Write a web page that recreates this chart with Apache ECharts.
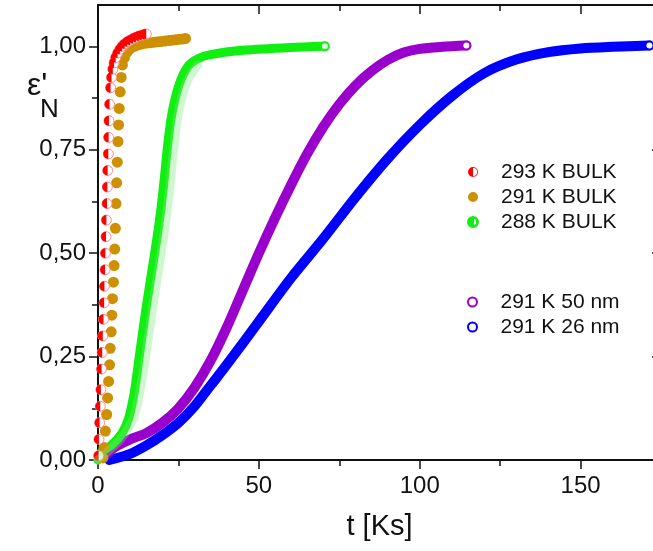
<!DOCTYPE html>
<html>
<head>
<meta charset="utf-8">
<script src="https://cdn.jsdelivr.net/npm/echarts@6/dist/echarts.min.js"></script>
<style>
    html, body { margin: 0; padding: 0; background: #fff; }
    #chart { width: 653px; height: 551px; }
</style>
</head>
<body>
<div id="chart"></div>
<script>
/*data: t in Ks, eps'N*/
const t293 = [0.2, 0.3, 0.5, 0.7, 0.9, 1.1, 1.3, 1.5, 1.7, 1.9, 2.0, 2.2, 2.3, 2.5, 2.6, 2.8, 2.9, 3.0, 3.2, 3.3, 3.4, 3.6, 3.9, 4.2, 4.6, 5.0, 5.5, 6.1, 6.8, 7.5, 8.3, 9.1, 10.0, 10.9, 11.8, 12.7, 13.6, 14.5, 15.0];
const e293 = [0.01, 0.05, 0.09, 0.13, 0.17, 0.22, 0.26, 0.30, 0.34, 0.38, 0.42, 0.46, 0.50, 0.54, 0.58, 0.62, 0.66, 0.70, 0.74, 0.78, 0.82, 0.86, 0.90, 0.925, 0.945, 0.96, 0.973, 0.984, 0.993, 1.0, 1.006, 1.011, 1.015, 1.019, 1.022, 1.025, 1.027, 1.029, 1.03];

const t291 = [1.5, 1.9, 2.3, 2.7, 3.0, 3.3, 3.6, 3.8, 4.1, 4.3, 4.5, 4.8, 5.0, 5.2, 5.4, 5.6, 5.8, 6.0, 6.2, 6.4, 6.6, 6.9, 7.2, 7.6, 8.2, 8.9, 9.6, 10.4, 11.3, 12.2, 13.2, 14.2, 15.3, 16.4, 17.5, 18.6, 19.7, 20.8, 21.9, 23.0, 24.1, 25.2, 26.3, 27.2];
const e291 = [0.005, 0.03, 0.07, 0.11, 0.15, 0.19, 0.23, 0.27, 0.31, 0.35, 0.39, 0.43, 0.47, 0.51, 0.56, 0.62, 0.67, 0.72, 0.77, 0.81, 0.85, 0.89, 0.925, 0.955, 0.972, 0.984, 0.992, 0.997, 1.0, 1.003, 1.005, 1.007, 1.008, 1.009, 1.010, 1.011, 1.012, 1.013, 1.014, 1.015, 1.016, 1.017, 1.018, 1.019];

const t288 = [0, 1.1, 4.2, 7.4, 9.5, 11.3, 13.0, 15.0, 16.8, 18.2, 19.6, 20.6, 21.5, 22.6, 24.0, 25.8, 28.3, 31.5, 35.0, 44.0, 59.6, 70.5];
const e288 = [0, 0.02, 0.036, 0.064, 0.10, 0.165, 0.26, 0.37, 0.46, 0.53, 0.61, 0.68, 0.75, 0.82, 0.875, 0.92, 0.955, 0.972, 0.98, 0.99, 0.997, 1.0];

const t288b = [0, 3.0, 7.0, 11.0, 13.0, 15.0, 17.0, 18.8, 20.2, 21.6, 22.6, 23.5, 24.6, 26.0, 28.0, 31.0];
const e288b = [0, 0.02, 0.05, 0.10, 0.165, 0.26, 0.37, 0.46, 0.53, 0.61, 0.68, 0.75, 0.82, 0.875, 0.92, 0.955];

const t50 = [1.5, 5, 10, 15, 20, 25, 30, 35, 40, 45, 50, 55, 60, 65, 70, 75, 80, 85, 90, 95, 100, 107, 114.5];
const e50 = [0.005, 0.03, 0.05, 0.065, 0.09, 0.125, 0.175, 0.24, 0.32, 0.41, 0.5, 0.585, 0.665, 0.74, 0.805, 0.86, 0.905, 0.94, 0.967, 0.985, 0.994, 0.999, 1.002];

const t26 = [3.5, 10, 15, 20, 25, 30, 35, 40, 50, 60, 70, 80, 90, 100, 110, 120, 130, 140, 150, 160, 171.4];
const e26 = [0, 0.015, 0.035, 0.06, 0.09, 0.13, 0.18, 0.23, 0.335, 0.44, 0.535, 0.635, 0.728, 0.81, 0.88, 0.935, 0.968, 0.986, 0.995, 0.999, 1.002];

const xMajor = [0, 50, 100, 150];
const xMinor = [25, 75, 125, 175];
const yMajor = [0, 0.25, 0.5, 0.75, 1.0];
const yMinor = [0.125, 0.375, 0.625, 0.875];

const names = ['293 K BULK', '291 K BULK', '288 K BULK', '291 K 50 nm', '291 K 26 nm'];
const colors = ['#ff0000', '#cc9000', '#11ee11', '#9900cc', '#0000ff'];

function zip(xs, ys) {
    return xs.map(function (x, i) { return [x, ys[i]]; });
}

const FONT = '"Liberation Sans", Arial, sans-serif';
const INK = '#111';
const halfPath = 'path://M10,0A10,10,0,0,0,10,20Z';
const halfRingPath = 'path://M10,0A10,10,0,0,0,10,20Z M10,0A10,10,0,0,1,10,20L10,18.4A8.4,8.4,0,0,0,10,1.6Z';

function xAxisOf(position, ticks, len, inside, showLine, showLabel) {
    return {
        type: 'value', position: position, min: 0, max: 175,
        axisLine: { show: showLine, onZero: false, lineStyle: { color: INK, width: 2 } },
        axisTick: { show: true, inside: inside, length: len, customValues: ticks, lineStyle: { color: INK, width: 1.5 } },
        axisLabel: showLabel ? {
            customValues: ticks, margin: 14, color: INK, fontSize: 24, fontFamily: FONT
        } : { show: false },
        splitLine: { show: false }
    };
}

function yAxisOf(position, ticks, len, inside, showLine, showLabel) {
    return {
        type: 'value', position: position, min: 0, max: 1.1,
        axisLine: { show: showLine, onZero: false, lineStyle: { color: INK, width: 2 } },
        axisTick: { show: true, inside: inside, length: len, customValues: ticks, lineStyle: { color: INK, width: 1.5 } },
        axisLabel: showLabel ? {
            customValues: ticks, margin: 12, color: INK, fontSize: 24, fontFamily: FONT,
            formatter: function (v) { return v.toFixed(2).replace('.', ','); }
        } : { show: false },
        splitLine: { show: false }
    };
}

function bandSeries(name, data, color, width, endFill) {
    return {
        name: name, type: 'line', data: data, smooth: 0.3,
        xAxisIndex: 0, yAxisIndex: 0,
        showAllSymbol: true, symbol: 'circle',
        symbolSize: function (v, p) { return p.dataIndex === data.length - 1 ? 8 : 0; },
        itemStyle: { color: endFill, borderColor: color, borderWidth: 2 },
        lineStyle: { color: color, width: width, cap: 'round', join: 'round' },
        emphasis: { disabled: true }, animation: false, z: 2
    };
}

const chart = echarts.init(document.getElementById('chart'));

chart.setOption({
    animation: false,
    grid: { left: 98, top: 5, width: 563, height: 455, outerBoundsMode: 'none' },
    xAxis: [
        Object.assign(xAxisOf('bottom', xMajor, 9, false, true, true), {
            name: 't [Ks]', nameLocation: 'middle', nameGap: 52,
            nameTextStyle: { color: INK, fontSize: 29, fontFamily: FONT }
        }),
        xAxisOf('bottom', xMinor, 6, false, false, false),
        xAxisOf('top', xMajor, 9, true, true, false),
        xAxisOf('top', xMinor, 6, true, false, false)
    ],
    yAxis: [
        yAxisOf('left', yMajor, 9, false, true, true),
        yAxisOf('left', yMinor, 6, false, false, false),
        yAxisOf('right', yMajor, 9, true, true, false),
        yAxisOf('right', yMinor, 6, true, false, false)
    ],
    legend: [
        {
            orient: 'vertical', left: 462, top: 156, itemWidth: 46, itemHeight: 10, itemGap: 3,
            textStyle: { color: INK, fontSize: 21, fontFamily: FONT, lineHeight: 22 },
            data: [
                { name: names[0], icon: halfRingPath, itemStyle: { color: colors[0] } },
                { name: names[1], icon: 'circle', itemStyle: { color: colors[1] } },
                { name: names[2], icon: halfRingPath, itemStyle: { color: colors[2] } }
            ]
        },
        {
            orient: 'vertical', left: 462, top: 286, itemWidth: 46, itemHeight: 9, itemGap: 3,
            textStyle: { color: INK, fontSize: 21, fontFamily: FONT, lineHeight: 22 },
            data: [
                { name: names[3], icon: 'circle', itemStyle: { color: '#fff', borderColor: colors[3], borderWidth: 2 } },
                { name: names[4], icon: 'circle', itemStyle: { color: '#fff', borderColor: colors[4], borderWidth: 2 } }
            ]
        }
    ],
    graphic: [
        { type: 'text', left: 27, top: 70, style: { text: 'ε\'', fill: INK, font: '32px ' + FONT } },
        { type: 'text', left: 40, top: 97, style: { text: 'N', fill: INK, font: '26px ' + FONT } }
    ],
    series: [
        bandSeries(names[4], zip(t26, e26), colors[4], 10, '#fff'),
        bandSeries(names[3], zip(t50, e50), colors[3], 10, '#fff'),
        {
            type: 'line', data: zip(t288b, e288b), smooth: 0.3, symbol: 'none',
            lineStyle: { color: 'rgba(120,235,120,0.35)', width: 9, cap: 'round' },
            emphasis: { disabled: true }, silent: true
        },
        bandSeries(names[2], zip(t288, e288), colors[2], 9, '#dfffdf'),
        {
            name: names[1], type: 'scatter', data: zip(t291, e291),
            symbol: 'circle', symbolSize: 11,
            itemStyle: { color: colors[1], opacity: 1 },
            emphasis: { disabled: true }
        },
        {
            type: 'scatter', data: zip(t293, e293),
            symbol: 'circle', symbolSize: 10,
            itemStyle: { color: '#fff', borderColor: '#ff8c8c', borderWidth: 1, opacity: 1 },
            emphasis: { disabled: true }, silent: true
        },
        {
            name: names[0], type: 'scatter', data: zip(t293, e293),
            symbol: halfPath, symbolSize: [5, 10], symbolOffset: [-2.5, 0],
            itemStyle: { color: colors[0], opacity: 1 },
            emphasis: { disabled: true }
        }
    ]
});

window.addEventListener('resize', chart.resize.bind(chart));
</script>
</body>
</html>
